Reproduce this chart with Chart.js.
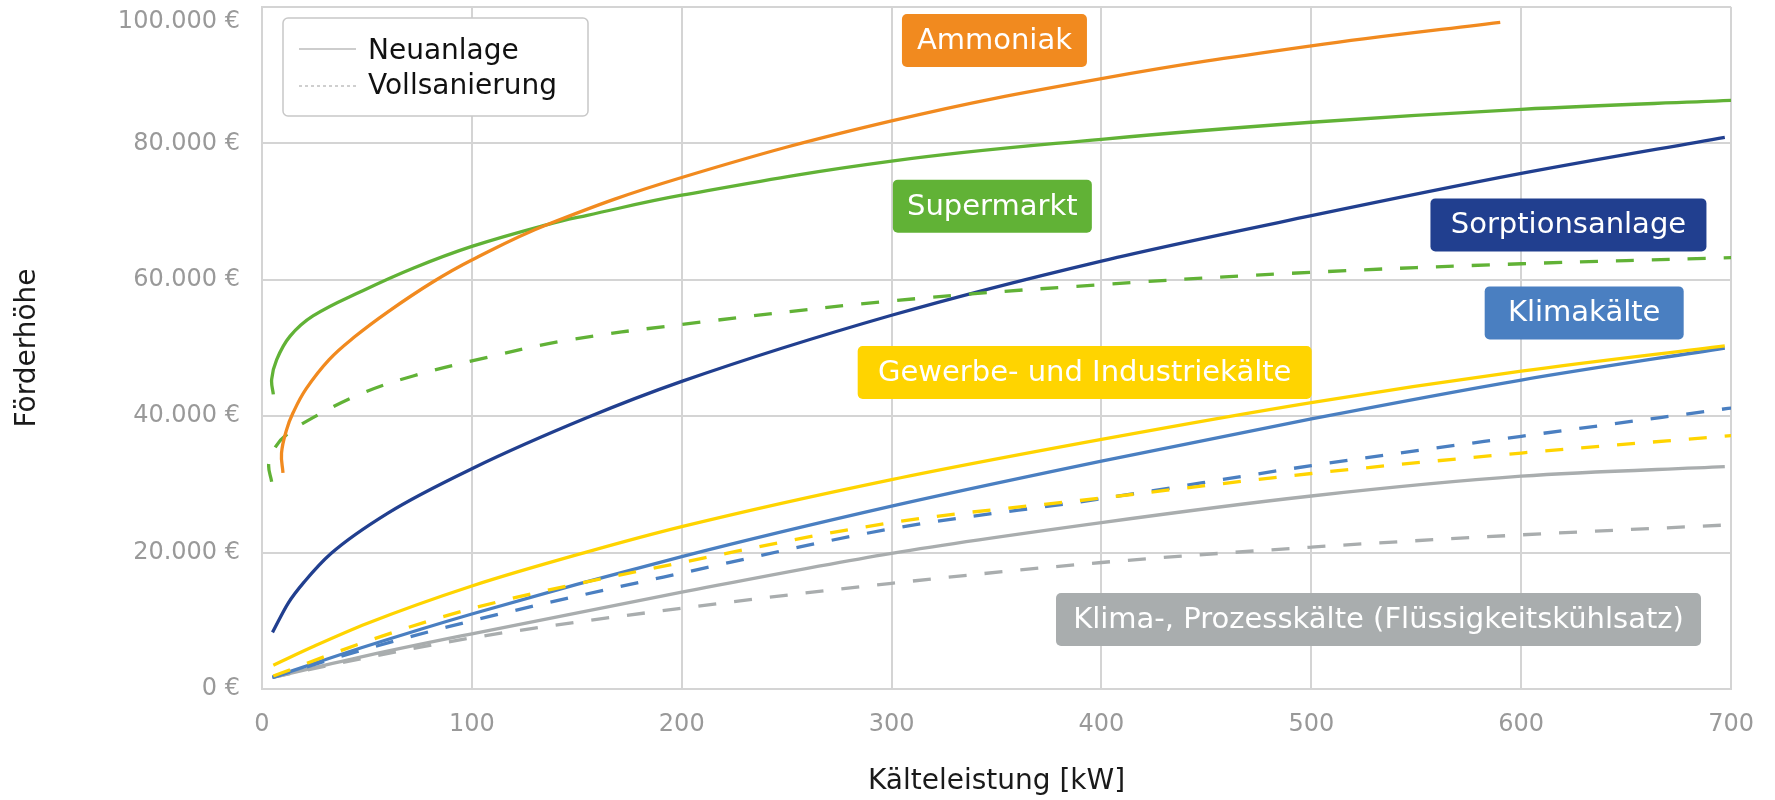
<!DOCTYPE html>
<html lang="de">
<head>
<meta charset="utf-8">
<title>Förderhöhe nach Kälteleistung</title>
<script src="https://cdn.jsdelivr.net/npm/chart.js@4.4.1/dist/chart.umd.min.js"></script>
<style>
  html, body { margin: 0; padding: 0; background: #fff; }
  #wrap { width: 1775px; height: 800px; }
</style>
</head>
<body>
<div id="wrap"><canvas id="myChart" width="1775" height="800"></canvas></div>
<script>
// Achsen
const xTitle = "Kälteleistung [kW]";
const yTitle = "Förderhöhe";
const yTicks = [0, 20000, 40000, 60000, 80000, 100000];
const yTickLabels = ["0 €", "20.000 €", "40.000 €", "60.000 €", "80.000 €", "100.000 €"];
const legendLabels = ["Neuanlage", "Vollsanierung"];

// Ammoniak (Neuanlage)
const kwAmmoniak = [10, 9.3, 11.7, 14.8, 21, 32, 44, 60, 81, 100, 136, 200, 300, 400, 500, 590];
const eurAmmoniak = [31700, 34600, 38000, 40500, 44000, 48300, 51600, 55300, 59600, 62900, 68100, 75000, 83300, 89500, 94300, 97750];

// Supermarkt
const kwSupermarkt = [5.4, 4.6, 7, 13.3, 24.3, 48, 72, 100, 136, 155, 200, 300, 400, 500, 600, 700];
const eurSupermarkt = [43200, 45400, 48300, 51700, 54700, 58400, 61700, 64900, 68100, 69450, 72400, 77400, 80600, 83100, 85000, 86300];
const kwSupermarktVs = [4.6, 3.2, 6.2, 11.7, 26.7, 48, 72, 100, 143, 200, 300, 400, 500, 600, 700];
const eurSupermarktVs = [30400, 33000, 35400, 37300, 40200, 43400, 45900, 48100, 51000, 53450, 56900, 59300, 61100, 62350, 63250];

// Sorptionsanlage
const kwSorption = [5, 12.5, 20.4, 33, 60, 100, 155, 200, 300, 400, 500, 600, 697];
const eurSorption = [8300, 12600, 15800, 19900, 25800, 32300, 39800, 45100, 54800, 62750, 69400, 75600, 80900];

// Klimakälte
const kwKlima = [5, 50, 100, 200, 300, 400, 500, 600, 697];
const eurKlima = [1700, 6300, 11000, 19400, 26800, 33400, 39600, 45300, 50000];
const kwKlimaVs = [5, 50, 100, 200, 300, 400, 500, 600, 700];
const eurKlimaVs = [1700, 5900, 10000, 17000, 23500, 27900, 32750, 37050, 41200];

// Gewerbe- und Industriekälte
const kwGewerbe = [5.4, 25, 50, 100, 155, 200, 300, 400, 500, 600, 697];
const eurGewerbe = [3500, 6300, 9600, 15100, 20100, 23800, 30700, 36600, 42000, 46600, 50300];
const kwGewerbeVs = [5.4, 50, 100, 200, 300, 400, 500, 600, 700];
const eurGewerbeVs = [1900, 7000, 11800, 18550, 24400, 28000, 31600, 34600, 37150];

// Klima-, Prozesskälte (Flüssigkeitskühlsatz)
const kwProzess = [5, 50, 100, 200, 300, 400, 500, 600, 697];
const eurProzess = [1700, 4900, 8100, 14200, 19900, 24400, 28300, 31200, 32600];
const kwProzessVs = [5, 50, 100, 200, 300, 400, 500, 600, 700];
const eurProzessVs = [1700, 4600, 7500, 11850, 15500, 18550, 20800, 22600, 24080];

// Beschriftungen
const labelTexts = ["Ammoniak", "Supermarkt", "Sorptionsanlage", "Klimakälte", "Gewerbe- und Industriekälte", "Klima-, Prozesskälte (Flüssigkeitskühlsatz)"];
const labelKw = [349, 348, 622.5, 630, 392, 532];
const labelEur = [95100, 70800, 68050, 55150, 46400, 10200];

const FONT = '"DejaVu Sans", sans-serif';
const ORANGE = "#f18a1f";
const GREEN = "#61b236";
const NAVY = "#213f8f";
const BLUE = "#4a7fc1";
const YELLOW = "#ffd400";
const GREY = "#a9adae";
const GRID = "#d4d4d4";

const labelColors = [ORANGE, GREEN, NAVY, BLUE, YELLOW, GREY];
const labelWidths = [185, 199, 276, 199, 454, 645];

function pts(xs, ys) {
  return xs.map((x, i) => ({ x: x, y: ys[i] }));
}

// hook = Anfang biegt leicht zurueck, dort normale Bezier-Glaettung
function series(xs, ys, color, dashed, hook) {
  return {
    data: pts(xs, ys),
    borderColor: color,
    borderWidth: 3.3,
    borderDash: dashed ? [18, 18] : [],
    borderCapStyle: "butt",
    pointRadius: 0,
    tension: 0.4,
    cubicInterpolationMode: hook ? "default" : "monotone",
    fill: false,
  };
}

// Legende oben links
const legendBox = {
  id: "legendBox",
  afterDraw(chart) {
    const { ctx, chartArea } = chart;
    const x = chartArea.left + 21;
    const y = chartArea.top + 11;
    ctx.save();
    ctx.beginPath();
    ctx.roundRect(x, y, 305, 98, 5);
    ctx.fillStyle = "#fff";
    ctx.fill();
    ctx.lineWidth = 1.5;
    ctx.strokeStyle = "#c8c8c8";
    ctx.stroke();

    ctx.lineWidth = 1.5;
    ctx.strokeStyle = "#bdbdbd";
    ctx.beginPath();
    ctx.moveTo(x + 16, y + 31);
    ctx.lineTo(x + 73, y + 31);
    ctx.stroke();

    ctx.setLineDash([3, 3]);
    ctx.strokeStyle = "#cfcfcf";
    ctx.lineWidth = 2;
    ctx.beginPath();
    ctx.moveTo(x + 16, y + 68);
    ctx.lineTo(x + 73, y + 68);
    ctx.stroke();
    ctx.setLineDash([]);

    ctx.fillStyle = "#111";
    ctx.font = "28px " + FONT;
    ctx.textBaseline = "middle";
    ctx.fillText(legendLabels[0], x + 85, y + 34);
    ctx.fillText(legendLabels[1], x + 85, y + 69);
    ctx.restore();
  },
};

// farbige Kaestchen mit den Anlagentypen
const typeLabels = {
  id: "typeLabels",
  afterDatasetsDraw(chart) {
    const { ctx, scales } = chart;
    ctx.save();
    ctx.font = "29px " + FONT;
    ctx.textAlign = "center";
    ctx.textBaseline = "middle";
    labelTexts.forEach((t, i) => {
      const cx = scales.x.getPixelForValue(labelKw[i]);
      const cy = scales.y.getPixelForValue(labelEur[i]);
      const w = labelWidths[i];
      const h = 53;
      ctx.fillStyle = labelColors[i];
      ctx.beginPath();
      ctx.roundRect(cx - w / 2, cy - h / 2, w, h, 5);
      ctx.fill();
      ctx.fillStyle = "#fff";
      ctx.fillText(t, cx, cy + 1);
    });
    ctx.restore();
  },
};

const ctx = document.getElementById("myChart");

new Chart(ctx, {
  type: "line",
  data: {
    datasets: [
      series(kwAmmoniak, eurAmmoniak, ORANGE, false, true),
      series(kwSupermarkt, eurSupermarkt, GREEN, false, true),
      series(kwSupermarktVs, eurSupermarktVs, GREEN, true, true),
      series(kwSorption, eurSorption, NAVY, false),
      series(kwGewerbeVs, eurGewerbeVs, YELLOW, true),
      series(kwGewerbe, eurGewerbe, YELLOW, false),
      series(kwKlimaVs, eurKlimaVs, BLUE, true),
      series(kwKlima, eurKlima, BLUE, false),
      series(kwProzessVs, eurProzessVs, GREY, true),
      series(kwProzess, eurProzess, GREY, false),
    ],
  },
  options: {
    responsive: false,
    animation: false,
    devicePixelRatio: 1,
    layout: {
      padding: { left: 7, right: 34, top: 7, bottom: 0 },
    },
    plugins: {
      legend: { display: false },
      tooltip: { enabled: false },
    },
    scales: {
      x: {
        type: "linear",
        min: 0,
        max: 700,
        ticks: {
          stepSize: 100,
          padding: 21,
          color: "#999",
          font: { family: FONT, size: 24 },
        },
        grid: { color: GRID, lineWidth: 2, drawTicks: false },
        border: { color: GRID, width: 2 },
        title: {
          display: true,
          text: xTitle,
          color: "#1a1a1a",
          font: { family: FONT, size: 28 },
          padding: { top: 4, bottom: 1 },
        },
        afterFit(scale) {
          scale.height = 111;
        },
      },
      y: {
        min: 0,
        max: 100000,
        afterBuildTicks(scale) {
          scale.ticks = yTicks.map((v) => ({ value: v }));
        },
        ticks: {
          padding: 22,
          color: "#999",
          font: { family: FONT, size: 24 },
          callback: (value) => {
            const t = yTickLabels[yTicks.indexOf(value)];
            return value === 100000 ? ["", t] : t;
          },
        },
        grid: { color: GRID, lineWidth: 2, drawTicks: false },
        border: { color: GRID, width: 2 },
        title: {
          display: true,
          text: yTitle,
          color: "#1a1a1a",
          font: { family: FONT, size: 28 },
          padding: { top: 4, bottom: 4 },
        },
        afterFit(scale) {
          scale.width = 255;
          scale.paddingTop = 0;
          scale.paddingBottom = 0;
        },
      },
    },
  },
  plugins: [typeLabels, legendBox],
});
</script>
</body>
</html>
